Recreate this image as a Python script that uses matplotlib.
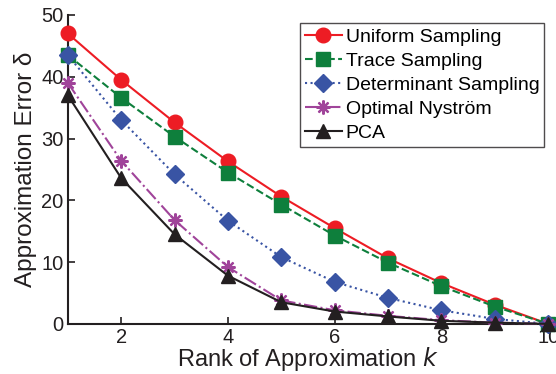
import matplotlib
matplotlib.use("Agg")
import matplotlib.pyplot as plt

plt.rcParams['font.family'] = ['Liberation Sans', 'DejaVu Sans']

k = [1, 2, 3, 4, 5, 6, 7, 8, 9, 10]
uniform = [47.0, 39.5, 32.6, 26.3, 20.6, 15.5, 10.6, 6.6, 3.1, 0.0]
trace = [43.5, 36.6, 30.3, 24.5, 19.3, 14.3, 9.9, 6.1, 2.8, 0.0]
determinant = [43.5, 33.0, 24.2, 16.7, 10.8, 6.8, 4.2, 2.2, 0.8, 0.0]
optimal = [39.0, 26.4, 16.8, 9.2, 3.8, 2.2, 1.3, 0.6, 0.2, 0.0]
pca = [37.0, 23.6, 14.5, 7.8, 3.5, 2.0, 1.2, 0.5, 0.2, 0.0]

labels = ["Uniform Sampling", "Trace Sampling", "Determinant Sampling",
          "Optimal Nyström", "PCA"]
xticks = [2, 4, 6, 8, 10]
yticks = [0, 10, 20, 30, 40, 50]

fig = plt.figure(figsize=(5.56, 3.74), dpi=100)
ax = fig.add_axes([0.122, 0.134, 0.864, 0.826])

styles = [
    (uniform, '#ED1C24', '-', 'o', 10.5, 1),
    (trace, '#0E7F3C', '--', 's', 9.5, 1),
    (determinant, '#3954A4', ':', 'D', 9, 1),
    (optimal, '#A0449A', '-.', (8, 2, 0), 10, 1.6),
    (pca, '#231F20', '-', '^', 10.5, 1),
]
for (vals, c, ls, m, ms, mew), lab in zip(styles, labels):
    ax.plot(k, vals, color=c, linestyle=ls, marker=m, markersize=ms,
            linewidth=1.5, label=lab, clip_on=False, zorder=3,
            markeredgecolor=c, markerfacecolor=c, markeredgewidth=mew)

ax.set_xlim(1, 10)
ax.set_ylim(0, 50)
ax.set_xticks(xticks)
ax.set_yticks(yticks)
ax.tick_params(direction='in', labelsize=14.5, length=5, width=1.2, pad=3,
               colors='#231F20')
for s in ['top', 'right']:
    ax.spines[s].set_visible(False)
for s in ['left', 'bottom']:
    ax.spines[s].set_linewidth(1.5)
    ax.spines[s].set_color('#231F20')

ax.set_xlabel("Rank of Approximation $k$", fontsize=17, labelpad=-1.2,
              color='#231F20')
ax.set_ylabel("Approximation Error δ", fontsize=17.5, labelpad=3,
              color='#231F20')

leg = ax.legend(loc='upper right', bbox_to_anchor=(1.0, 0.985), fontsize=14,
                frameon=True, fancybox=False, edgecolor='#231F20',
                handlelength=1.9, handletextpad=0.2, borderpad=0.25,
                labelspacing=0.33, borderaxespad=0.2)
leg.get_frame().set_linewidth(1.0)

fig.savefig("out.png", dpi=100)
